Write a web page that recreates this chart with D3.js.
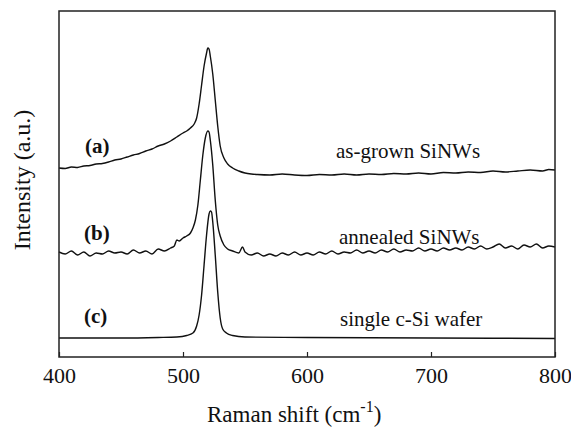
<!DOCTYPE html>
<html>
<head>
<meta charset="utf-8">
<script src="https://cdn.jsdelivr.net/npm/d3@7"></script>
<style>
	body { margin: 0; background: #fff; }
	svg text { font-family: "Times New Roman", "Liberation Serif", "DejaVu Serif", serif; fill: #111; }
</style>
</head>
<body>
<div id="chart"></div>
<script>
// Raman shift (cm-1) and intensity (a.u.)
const shiftA = [400,405,410,415,420,425,430,435,440,445,450,455,460,465,470,475,480,485,490,495,500,503,506,509,511,513,515,517,519,520,521,522,524,526,528,530,533,536,540,545,550,555,560,570,580,590,600,610,620,630,640,650,660,670,680,690,700,710,720,730,740,750,760,770,780,790,795,800];
const grownA = [189,188.5,190,189.5,191,191.5,193,193.5,195,197,198,200,202,203.5,206,208,211,213,216,220,224,226,229,233,239,253,272,291,304,309,308,301,283,257,231,211,199,193,189,186,184,183,182.5,182,183,182,181.5,182.5,182,183,182,183,182.5,183.5,183,184,183,184.5,184,185,184.5,186,185,186,187,186,187.5,187];

const shiftB = [400,405,410,415,420,425,430,435,440,445,450,455,460,465,470,475,480,485,490,493,495,497,500,503,506,508,510,512,514,516,518,520,521,522,524,526,528,530,533,536,540,545,548,550,555,560,565,570,575,580,585,590,595,600,605,610,615,620,625,630,635,640,645,650,655,660,665,670,675,680,685,690,695,700,705,710,715,720,725,730,735,740,745,750,755,760,765,770,775,780,785,790,795,800];
const annealedB = [105,103,106,102,105,101,104,103,106,104,105,103,107,104,106,103,108,106,109,111,117,116,119,121,124,129,137,152,177,202,219,226,225,217,192,157,132,121,112,108,106,104,110,105,102,104,101,103,101,104,102,105,102,104,102,105,103,106,103,105,104,107,104,106,104,107,105,108,105,107,106,109,106,108,106,109,107,109,107,110,108,111,108,110,113,109,111,108,112,110,113,109,111,110];

const shiftC = [400,450,480,495,503,508,511,513,515,517,519,521,522,523,524,526,528,530,532,535,540,550,600,700,800];
const waferC = [19,19,19.5,20,21.5,24,31,42,62,92,122,143,146,145,135,102,65,39,28,24,21.5,20,19.5,19,18.5];

const xTicks = [400, 500, 600, 700, 800];
const spectra = [
	{ key: '(a)', name: 'as-grown SiNWs', x: shiftA, y: grownA, lx: 85, ly: 153, nx: 336, ny: 158 },
	{ key: '(b)', name: 'annealed SiNWs', x: shiftB, y: annealedB, lx: 84, ly: 240, nx: 339, ny: 244 },
	{ key: '(c)', name: 'single c-Si wafer', x: shiftC, y: waferC, lx: 84, ly: 323, nx: 340, ny: 326 }
];

const width = 571, height = 430;
const m = { left: 59, right: 555, top: 11, bottom: 357 };

const svg = d3.select('#chart').append('svg')
	.attr('width', width)
	.attr('height', height);

const x = d3.scaleLinear().domain([400, 800]).range([m.left, m.right]);
const y = d3.scaleLinear().domain([0, 346]).range([m.bottom, m.top]);

const line = d3.line()
	.x(d => x(d[0]))
	.y(d => y(d[1]))
	.curve(d3.curveMonotoneX);

spectra.forEach(s => {
	const pts = s.x.map((v, i) => [v, s.y[i]]);
	svg.append('path')
		.datum(pts)
		.attr('d', line)
		.attr('fill', 'none')
		.attr('stroke', '#111')
		.attr('stroke-width', 1.4);
	svg.append('text')
		.attr('x', s.lx)
		.attr('y', s.ly)
		.attr('font-size', 21)
		.attr('font-weight', 'bold')
		.text(s.key);
	svg.append('text')
		.attr('x', s.nx)
		.attr('y', s.ny)
		.attr('font-size', 21)
		.text(s.name);
});

// frame
svg.append('rect')
	.attr('x', m.left)
	.attr('y', m.top)
	.attr('width', m.right - m.left)
	.attr('height', m.bottom - m.top)
	.attr('fill', 'none')
	.attr('stroke', '#222')
	.attr('stroke-width', 1.5);

const xAxis = svg.append('g')
	.attr('transform', `translate(0,${m.bottom})`)
	.call(d3.axisBottom(x).tickValues(xTicks).tickSizeInner(-5).tickSizeOuter(0).tickPadding(10));
xAxis.attr('font-family', null);
xAxis.select('.domain').remove();
xAxis.selectAll('line').attr('stroke', '#222').attr('stroke-width', 1.2);
xAxis.selectAll('text')
	.attr('font-size', 22)
	.attr('fill', '#111');

const xTitle = svg.append('text')
	.attr('x', 207)
	.attr('y', 422)
	.attr('font-size', 23);
xTitle.append('tspan').text('Raman shift (cm');
xTitle.append('tspan').attr('dy', -10).attr('font-size', 16).text('-1');
xTitle.append('tspan').attr('dy', 10).text(')');

svg.append('text')
	.attr('transform', `translate(30,180) rotate(-90)`)
	.attr('text-anchor', 'middle')
	.attr('font-size', 24)
	.text('Intensity (a.u.)');
</script>
</body>
</html>
